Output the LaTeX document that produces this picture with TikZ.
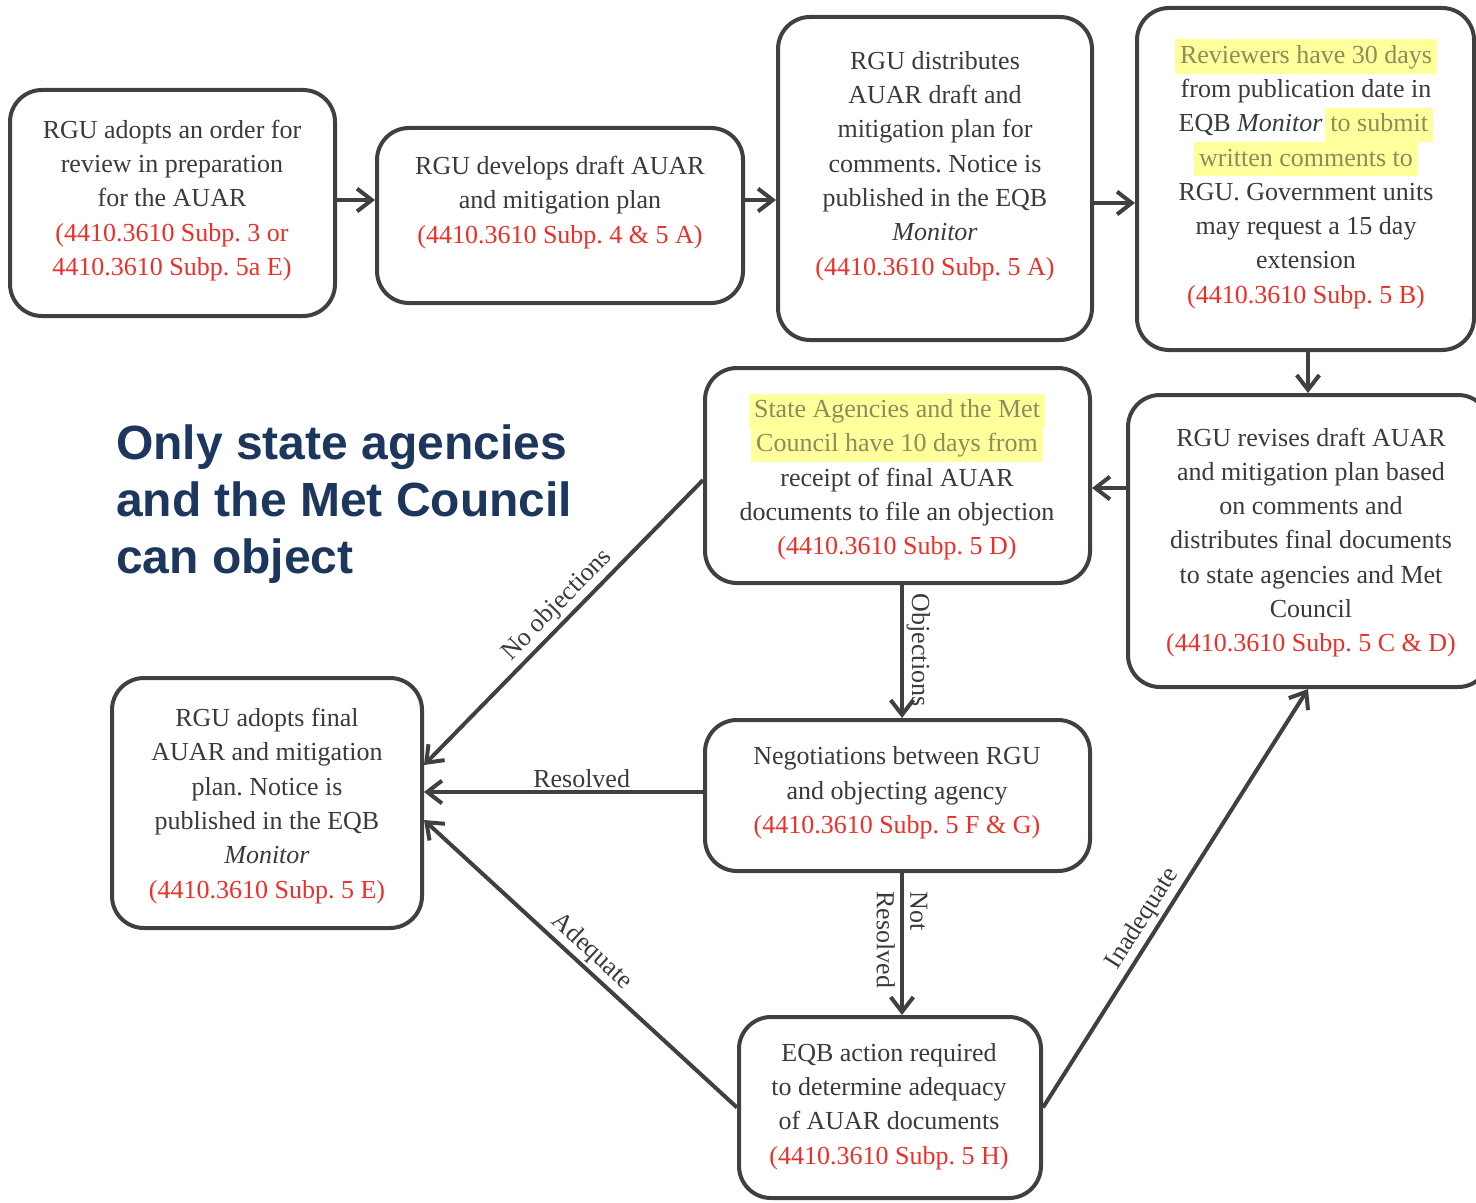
\documentclass[tikz,border=0pt]{standalone}
\usepackage{fontspec}
\setmainfont{Liberation Serif}
\newfontfamily\titlefont{Liberation Sans}
\usetikzlibrary{arrows.meta,calc}
\definecolor{ink}{HTML}{3A3A3A}
\definecolor{edge}{HTML}{404040}
\definecolor{refred}{HTML}{E8312A}
\definecolor{hlbg}{HTML}{FFFF9C}
\definecolor{hltx}{HTML}{8C8C5C}
\definecolor{navy}{HTML}{1C365E}
\newcommand{\hlt}[1]{{\setlength{\fboxsep}{0pt}\colorbox{hlbg}{\hspace{4pt}\color{hltx}\strut#1\hspace{4pt}}}}
\newcommand{\rf}[1]{\textcolor{refred}{#1}}
\frenchspacing
\begin{document}
\begin{tikzpicture}[x=0.75pt,y=-0.75pt,
  wh/.style 2 args={minimum width={#1*0.75pt},minimum height={#2*0.75pt}},
  box/.style={draw=edge,line width=3pt,rounded corners=24pt,fill=white,inner sep=0pt},
  txt/.style={align=center,text=ink,font=\frenchspacing\fontsize{19.5}{25.7}\selectfont,inner sep=0pt},
  lbl/.style={text=ink,font=\fontsize{19.5}{25}\selectfont,inner sep=2pt},
  flow/.style={draw=edge,line width=3pt,-{Straight Barb[length=11pt,width=17pt]}}]
\useasboundingbox (0,0) rectangle (1476,1202);
\clip (0,0) rectangle (1476,1202);

% boxes
\node[box,wh={325}{226}] (A) at (172.5,203) {};
\node[box,wh={366}{175}] (B) at (560,215.5) {};
\node[box,wh={314}{323}] (C) at (935,178.5) {};
\node[box,wh={337}{342}] (D) at (1305.5,179) {};
\node[box,wh={362}{292}] (E) at (1309,541) {};
\node[box,wh={385}{215}] (F) at (897.5,475.5) {};
\node[box,wh={310}{250}] (G) at (267,803) {};
\node[box,wh={385}{151}] (H) at (897.5,795.5) {};
\node[box,wh={302}{181}] (I) at (890,1107.5) {};

% texts
\node[txt] (tA) at (172,200.5) {RGU adopts an order for\\review in preparation\\for the AUAR\\\rf{(4410.3610 Subp. 3 or}\\\rf{4410.3610 Subp. 5a E)}};
\node[txt] (tB) at (560,202.5) {RGU develops draft AUAR\\and mitigation plan\\\rf{(4410.3610 Subp. 4 \& 5 A)}};
\node[txt] (tC) at (935,166) {RGU distributes\\AUAR draft and\\mitigation plan for\\comments. Notice is\\published in the EQB\\\textit{Monitor}\\\rf{(4410.3610 Subp. 5 A)}};
\node[txt] (tD) at (1306,174) {\hlt{Reviewers have 30 days}\\from publication date in\\EQB \textit{Monitor}\hspace{2pt}\hlt{to submit}\\\hlt{written comments to}\\RGU. Government units\\may request a 15 day\\extension\\\rf{(4410.3610 Subp. 5 B)}};
\node[txt] (tE) at (1311,542.5) {RGU revises draft AUAR\\and mitigation plan based\\on comments and\\distributes final documents\\to state agencies and Met\\Council\\\rf{(4410.3610 Subp. 5 C \& D)}};
\node[txt] (tF) at (897,477) {\hlt{State Agencies and the Met}\\\hlt{Council have 10 days from}\\receipt of final AUAR\\documents to file an objection\\\rf{(4410.3610 Subp. 5 D)}};
\node[txt] (tG) at (267,806) {RGU adopts final\\AUAR and mitigation\\plan. Notice is\\published in the EQB\\\textit{Monitor}\\\rf{(4410.3610 Subp. 5 E)}};
\node[txt] (tH) at (897,793) {Negotiations between RGU\\and objecting agency\\\rf{(4410.3610 Subp. 5 F \& G)}};
\node[txt] (tI) at (889,1106.5) {EQB action required\\to determine adequacy\\of AUAR documents\\\rf{(4410.3610 Subp. 5 H)}};

% title
\node[anchor=west,align=left,text=navy,inner sep=0pt,
  font=\titlefont\bfseries\fontsize{36}{42.75}\selectfont] (title) at (116,504)
  {Only state agencies\\and the Met Council\\can object};

% helper coordinates
\coordinate (r200) at (0,200);
\coordinate (r203) at (0,203);
\coordinate (r480) at (0,480);
\coordinate (r488) at (0,488);
\coordinate (r765) at (0,765);
\coordinate (r792) at (0,792);
\coordinate (r820) at (0,820);
\coordinate (c902) at (902,0);
\coordinate (c1308) at (1308,0);

% connectors
\draw[flow] (A.east |- r200) -- (B.west |- r200);
\draw[flow] (B.east |- r200) -- (C.west |- r200);
\draw[flow] (C.east |- r203) -- (D.west |- r203);
\draw[flow] (D.south -| c1308) -- (E.north -| c1308);
\draw[flow] (E.west |- r488) -- (F.east |- r488);
\draw[flow] (F.west |- r480) -- (G.east |- r765)
  node[lbl,pos=0.48,above,sloped] {No objections};
\draw[flow] (F.south -| c902) -- (H.north -| c902)
  node[lbl,pos=0.49,above,sloped] {Objections};
\draw[flow] (H.west |- r792) -- (G.east |- r792)
  node[lbl,pos=0.435,above] {Resolved};
\draw[flow] (H.south -| c902) -- (I.north -| c902)
  node[lbl,pos=0.47,sloped,align=left] {Not\\Resolved};
\draw[flow] (I.west) -- (G.east |- r820)
  node[lbl,pos=0.5,above,sloped] {Adequate};
\draw[flow] (I.east) -- (c1308 |- E.south)
  node[lbl,pos=0.43,above,sloped] {Inadequate};
\end{tikzpicture}
\end{document}
